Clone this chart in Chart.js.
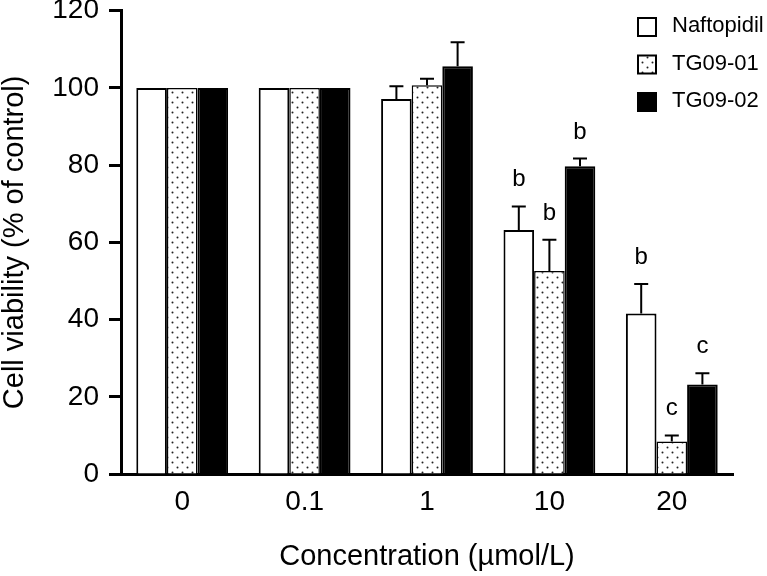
<!DOCTYPE html>
<html>
<head>
<meta charset="utf-8">
<script src="https://cdn.jsdelivr.net/npm/chart.js@4"></script>
<style>
  body { margin: 0; background: #fff; }
  #wrap { width: 767px; height: 576px; }
</style>
</head>
<body>
<div id="wrap"><canvas id="viability_graph"></canvas></div>
<script>
const concentrations = ['0', '0.1', '1', '10', '20'];
const naftopidil = [100, 100, 97.1, 63.2, 41.6];
const naftopidilErr = [0, 0, 3.3, 6.1, 7.6];
const tg0901 = [100, 100, 100.7, 52.6, 8.4];
const tg0901Err = [0, 0, 1.7, 8.1, 1.6];
const tg0902 = [100, 100, 105.6, 79.7, 23.2];
const tg0902Err = [0, 0, 6.2, 2.0, 2.9];
const naftopidilSig = ['', '', '', 'b', 'b'];
const tg0901Sig = ['', '', '', 'b', 'c'];
const tg0902Sig = ['', '', '', 'b', 'c'];
const yTicks = [0, 20, 40, 60, 80, 100, 120];

const FONT = "'Liberation Sans', Arial, sans-serif";

function dotPattern() {
    const c = document.createElement('canvas');
    c.width = 10;
    c.height = 10;
    const g = c.getContext('2d');
    g.fillStyle = '#fff';
    g.fillRect(0, 0, 10, 10);
    g.fillStyle = '#222';
    [[2.5, 2.5], [7.5, 7.5]].forEach(p => {
        g.beginPath();
        g.arc(p[0], p[1], 1, 0, Math.PI * 2);
        g.fill();
    });
    return document.getElementById('viability_graph').getContext('2d').createPattern(c, 'repeat');
}

// error bars (upper only) and significance letters
const errorBars = {
    id: 'errorBars',
    afterDatasetsDraw(chart) {
        const ctx = chart.ctx;
        const y = chart.scales.y;
        ctx.save();
        chart.data.datasets.forEach((ds, i) => {
            const meta = chart.getDatasetMeta(i);
            meta.data.forEach((bar, j) => {
                const v = ds.data[j];
                const e = ds.err[j];
                const top = y.getPixelForValue(v + e);
                if (e > 0) {
                    ctx.strokeStyle = '#000';
                    ctx.lineWidth = 2;
                    ctx.beginPath();
                    ctx.moveTo(bar.x, bar.y);
                    ctx.lineTo(bar.x, top);
                    ctx.moveTo(bar.x - 7, top);
                    ctx.lineTo(bar.x + 7, top);
                    ctx.stroke();
                }
                if (ds.sig[j]) {
                    ctx.fillStyle = '#000';
                    ctx.font = '24px ' + FONT;
                    ctx.textAlign = 'center';
                    ctx.textBaseline = 'alphabetic';
                    ctx.fillText(ds.sig[j], bar.x, top - 20);
                }
            });
        });
        ctx.restore();
    }
};

// legend drawn inside the plot, top right
const boxLegend = {
    id: 'boxLegend',
    afterDraw(chart) {
        const ctx = chart.ctx;
        ctx.save();
        chart.data.datasets.forEach((ds, i) => {
            const bx = 637, by = 17 + i * 37.5;
            ctx.fillStyle = ds.backgroundColor;
            ctx.fillRect(bx, by, 20, 20);
            ctx.strokeStyle = '#000';
            ctx.lineWidth = 2;
            ctx.strokeRect(bx + 1, by + 1, 18, 18);
            ctx.fillStyle = '#000';
            ctx.font = '22px ' + FONT;
            ctx.textAlign = 'left';
            ctx.textBaseline = 'middle';
            ctx.fillText(ds.label, 672, by + 9);
        });
        ctx.restore();
    }
};

const ctx = document.getElementById('viability_graph').getContext('2d');
const chart = new Chart(ctx, {
    type: 'bar',
    data: {
        labels: concentrations,
        datasets: [
            {
                label: 'Naftopidil',
                data: naftopidil,
                err: naftopidilErr,
                sig: naftopidilSig,
                backgroundColor: '#fff',
                borderColor: '#000',
                borderWidth: 2,
            },
            {
                label: 'TG09-01',
                data: tg0901,
                err: tg0901Err,
                sig: tg0901Sig,
                backgroundColor: dotPattern(),
                borderColor: '#000',
                borderWidth: 1.5,
            },
            {
                label: 'TG09-02',
                data: tg0902,
                err: tg0902Err,
                sig: tg0902Sig,
                backgroundColor: '#000',
                borderColor: '#000',
                borderWidth: 2,
            },
        ]
    },
    options: {
        responsive: true,
        maintainAspectRatio: false,
        animation: false,
        categoryPercentage: 0.75,
        barPercentage: 1,
        layout: { padding: { left: 0, right: 34, top: 0, bottom: 0 } },
        plugins: {
            legend: { display: false },
            tooltip: { enabled: false },
        },
        scales: {
            x: {
                grid: { display: false },
                border: { display: true, color: '#000', width: 3 },
                ticks: { color: '#000', padding: 3, font: { family: FONT, size: 28 } },
                title: {
                    display: true,
                    text: 'Concentration (µmol/L)',
                    color: '#000',
                    padding: { top: 0, bottom: 2 },
                    font: { family: FONT, size: 29 }
                },
                afterFit: s => { s.height = 102; }
            },
            y: {
                min: 0,
                max: 120,
                afterBuildTicks: s => { s.ticks = yTicks.map(v => ({ value: v })); },
                grid: { drawOnChartArea: false, color: '#000', tickLength: 12, tickWidth: 3 },
                border: { display: true, color: '#000', width: 3 },
                ticks: { color: '#000', padding: 10, font: { family: FONT, size: 28, lineHeight: 0.05 } },
                title: {
                    display: true,
                    text: 'Cell viability (% of control)',
                    color: '#000',
                    padding: 0,
                    font: { family: FONT, size: 29, lineHeight: 1 }
                },
                afterFit: s => { s.width = 121; }
            }
        }
    },
    plugins: [errorBars, boxLegend]
});
</script>
</body>
</html>
